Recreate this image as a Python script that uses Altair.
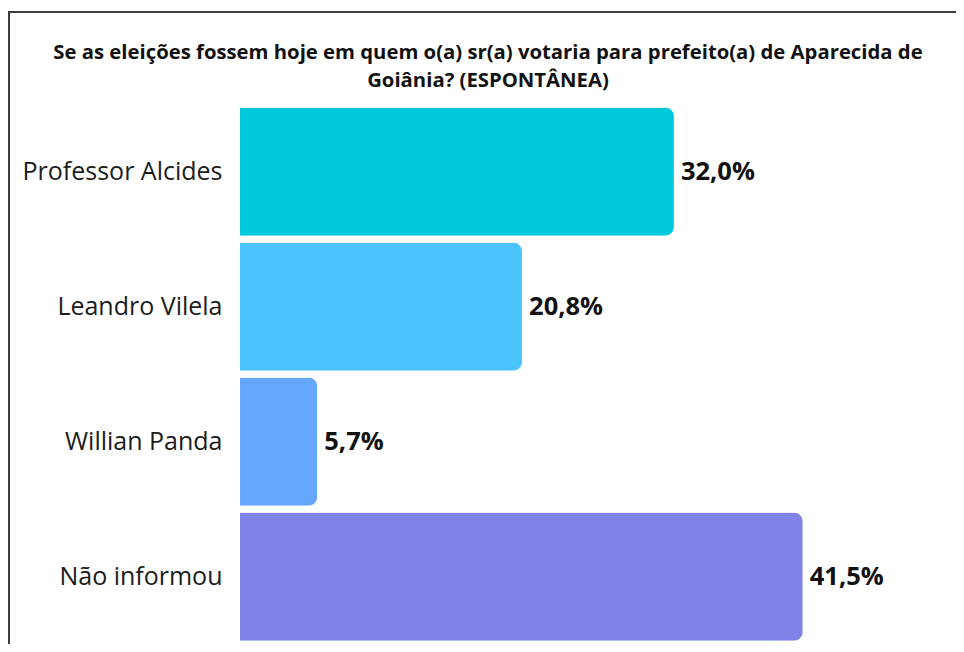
import altair as alt
import pandas as pd

categories = ["Professor Alcides", "Leandro Vilela", "Willian Panda", "Não informou"]
values = [32.0, 20.8, 5.7, 41.5]
value_labels = ["32,0%", "20,8%", "5,7%", "41,5%"]
colors = ["#00C9DC", "#4BC4FF", "#65A6FE", "#7F82E7"]
title_lines = [
    "Se as eleições fossem hoje em quem o(a) sr(a) votaria para prefeito(a) de Aparecida de",
    "Goiânia? (ESPONTÂNEA)",
]

df = pd.DataFrame({"cat": categories, "val": values, "lab": value_labels})

W = 678
H = 540
TOP = 96
LEFT = 232
FONT = "Open Sans"

y_enc = alt.Y(
    "cat:N",
    sort=categories,
    scale=alt.Scale(paddingInner=0.05, paddingOuter=0.025),
    axis=alt.Axis(
        title=None,
        domain=False,
        ticks=False,
        labelPadding=18,
        labelFont=FONT,
        labelFontSize=25,
        labelColor="#1c1c1c",
        labelLimit=400,
    ),
)
x_enc = alt.X(
    "val:Q",
    scale=alt.Scale(domain=[0, 50], nice=False),
    axis=None,
)

base = alt.Chart(df)

bars = base.mark_bar(cornerRadiusEnd=9).encode(
    y=y_enc,
    x=x_enc,
    color=alt.Color("cat:N", scale=alt.Scale(domain=categories, range=colors), legend=None),
)

text = base.mark_text(
    align="left", baseline="middle", dx=7, font=FONT, fontSize=25.5, fontWeight="bold", color="#111111"
).encode(y=alt.Y("cat:N", sort=categories), x="val:Q", text="lab:N")

frame = alt.Chart(alt.Data(values=[{}])).mark_rect(
    fillOpacity=0, stroke="#3d3d3d", strokeWidth=2
).encode(
    x=alt.value(-LEFT + 1),
    x2=alt.value(W + 300),
    y=alt.value(-TOP + 4),
    y2=alt.value(H + 100),
)

chart = (
    alt.layer(frame, bars, text)
    .properties(
        width=W,
        height=H,
        title=alt.TitleParams(
            text=title_lines,
            anchor="middle",
            frame="group",
            font=FONT,
            fontSize=20.3,
            fontWeight="bold",
            color="#111111",
            lineHeight=28,
            dx=-91,
            dy=94,
            offset=14,
        ),
        autosize=alt.AutoSizeParams(type="none"),
        padding={"left": LEFT, "top": TOP, "right": 38, "bottom": 0},
    )
    .configure_view(strokeWidth=0)
)

chart.save("out.html", embed_options={"renderer": "svg", "actions": False})
